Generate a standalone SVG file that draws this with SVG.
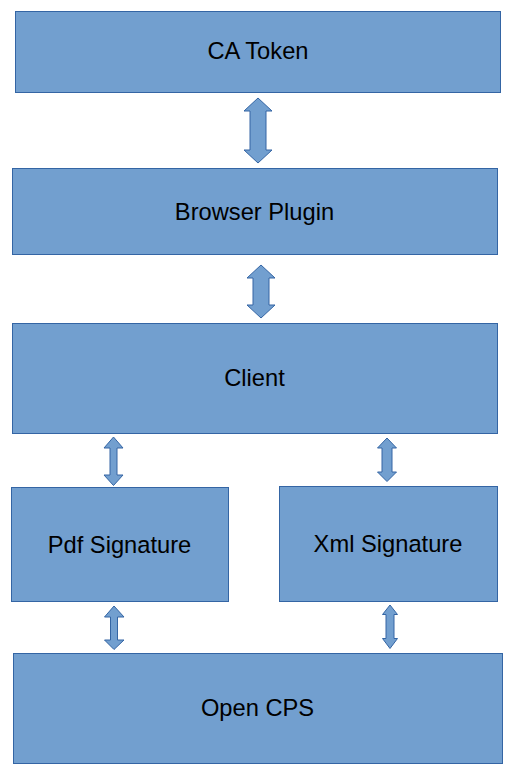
<svg xmlns="http://www.w3.org/2000/svg" width="512" height="768" viewBox="0 0 512 768">
<style>
.box{fill:#729fcf;stroke:#3465a4;stroke-width:1}
.arr{fill:#729fcf;stroke:#3465a4;stroke-width:1;stroke-linejoin:miter}
.lbl{font-family:"Liberation Sans",Arial,sans-serif;font-size:23.7px;fill:#000;text-anchor:middle}
</style>
<rect width="512" height="768" fill="#fff"/>
<g id="ca-token"><rect class="box" x="15.5" y="11.5" width="485" height="81"/><text class="lbl" x="258" y="59">CA Token</text></g>
<g id="browser-plugin"><rect class="box" x="12.5" y="168.5" width="485" height="86"/><text class="lbl" x="254.5" y="220">Browser Plugin</text></g>
<g id="client"><rect class="box" x="12.5" y="323.5" width="485" height="110"/><text class="lbl" x="254.5" y="386">Client</text></g>
<g id="pdf-signature"><rect class="box" x="11.5" y="487.5" width="217" height="114"/><text class="lbl" x="119.5" y="553">Pdf Signature</text></g>
<g id="xml-signature"><rect class="box" x="279.5" y="486.5" width="218" height="115"/><text class="lbl" x="388" y="552">Xml Signature</text></g>
<g id="open-cps"><rect class="box" x="13.5" y="653.5" width="489" height="110"/><text class="lbl" x="257.5" y="716">Open CPS</text></g>
<g id="connectors">
<polygon class="arr" points="258,98 272,111 266,111 266,150 272,150 258,163 244,150 250,150 250,111 244,111"/>
<polygon class="arr" points="261,265 275,278 269,278 269,305 275,305 261,318 247,305 253,305 253,278 247,278"/>
<polygon class="arr" points="113.5,437 123,448 117,448 117,475 123,475 113.5,485.5 104,475 110,475 110,448 104,448"/>
<polygon class="arr" points="387,438 396.5,448 392,448 392,472 396.5,472 387,481.5 377.5,472 382,472 382,448 377.5,448"/>
<polygon class="arr" points="114,606 124,617 117.5,617 117.5,640 124,640 114,649.5 104.5,640 110.5,640 110.5,617 104.5,617"/>
<polygon class="arr" points="390,605 397.5,614.5 394,614.5 394,638.5 397.5,638.5 390,648.5 382.5,638.5 386,638.5 386,614.5 382.5,614.5"/>
</g>
</svg>
